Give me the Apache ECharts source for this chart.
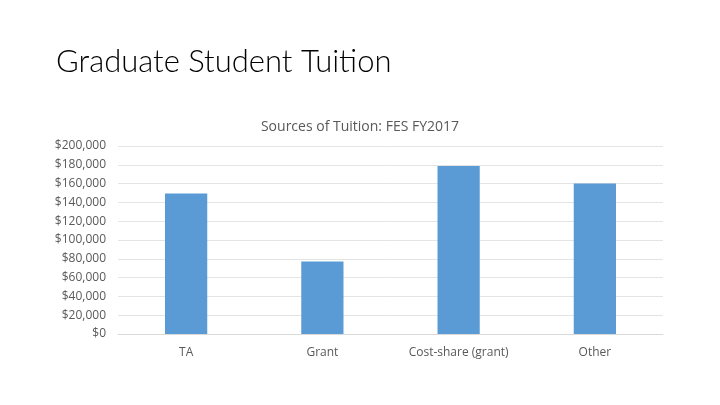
<!DOCTYPE html>
<html><head><meta charset="utf-8">
<script src="https://cdn.jsdelivr.net/npm/echarts@6/dist/echarts.min.js"></script>
<style>html,body{margin:0;padding:0;background:#fff}#c{width:720px;height:405px}</style>
</head><body><div id="c"></div>
<script>
const categories = ['TA', 'Grant', 'Cost-share (grant)', 'Other'];
const tuition = [149500, 77000, 178700, 160000];
const yTicks = [0, 20000, 40000, 60000, 80000, 100000, 120000, 140000, 160000, 180000, 200000];

const chart = echarts.init(document.getElementById('c'));
chart.setOption({
  backgroundColor: '#fff',
  animation: false,
  title: [
    { text: 'Graduate Student Tuition', left: 51, top: 41,
      textStyle: { fontFamily: 'Lato', fontWeight: 300, fontSize: 31, color: '#000' } },
    { text: 'Sources of Tuition: FES FY2017', left: 'center', top: 115,
      textStyle: { fontFamily: 'Open Sans', fontWeight: 'normal', fontSize: 14, color: '#595959' } }
  ],
  grid: { left: 118, right: 57, top: 146, bottom: 71 },
  xAxis: {
    type: 'category', data: categories,
    axisLine: { lineStyle: { color: '#D9D9D9' } },
    axisTick: { show: false },
    axisLabel: { color: '#595959', fontFamily: 'Open Sans', fontSize: 12, margin: 13 }
  },
  yAxis: {
    type: 'value', min: yTicks[0], max: yTicks[yTicks.length - 1], interval: 20000,
    axisLine: { show: false }, axisTick: { show: false },
    splitLine: { lineStyle: { color: '#E4E4E4' } },
    axisLabel: { color: '#595959', fontFamily: 'Open Sans', fontSize: 12, margin: 12,
      formatter: v => '$' + v.toLocaleString('en-US') }
  },
  series: [{
    type: 'bar', data: tuition, barWidth: '31%',
    itemStyle: { color: '#5B9BD5' }
  }]
});
</script></body></html>
